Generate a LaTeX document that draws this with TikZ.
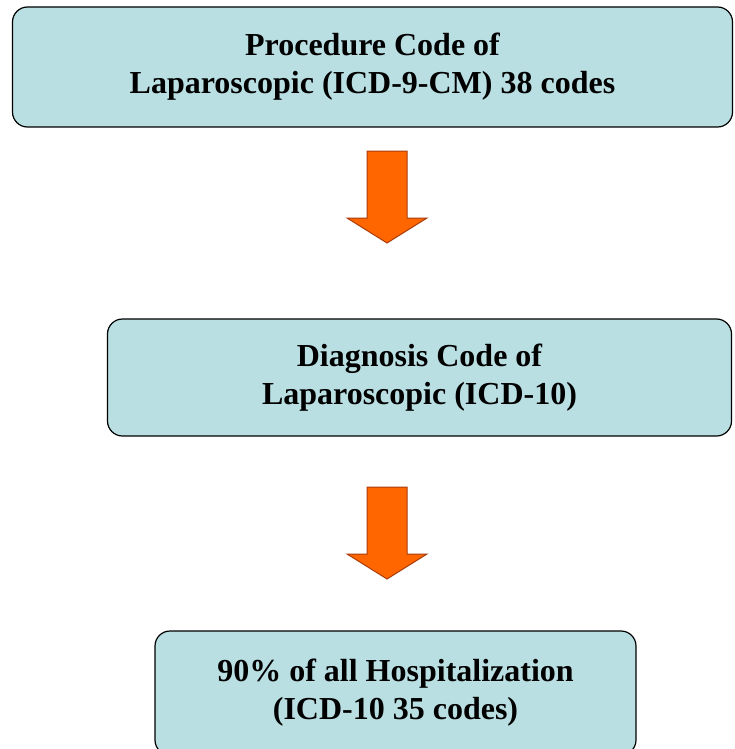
\documentclass[tikz,border=0pt]{standalone}
\usepackage{fontspec}
\setmainfont{Liberation Serif}
\definecolor{boxfill}{RGB}{185,223,227}
\definecolor{arrfill}{RGB}{255,102,0}
\definecolor{arrdraw}{RGB}{170,60,10}
\tikzset{
  codebox/.style={draw=black, line width=1.2pt, fill=boxfill, rounded corners=15pt,
    align=center, font=\fontsize{32}{38}\selectfont\bfseries, inner sep=0pt},
  downarrow/.pic={
    \draw[arrdraw, fill=arrfill, line width=1pt, line join=miter]
      (-20,-46) -- (20,-46) -- (20,21) -- (40,21) -- (0,46) -- (-40,21) -- (-20,21) -- cycle;
  }
}
\begin{document}
\begin{tikzpicture}[x=1pt, y=-1pt]
	\useasboundingbox (0,0) rectangle (734,749);
	% boxes
	\node[codebox, minimum width=720pt, minimum height=120pt] (proc) at (372.5,67)
	  {Procedure Code of\\Laparoscopic (ICD-9-CM) 38 codes};
	\node[codebox, minimum width=624pt, minimum height=117pt] (diag) at (419.5,377.5)
	  {Diagnosis Code of\\Laparoscopic (ICD-10)};
	\node[codebox, minimum width=481pt, minimum height=124pt] (hosp) at (395.5,693)
	  {90\% of all Hospitalization\\(ICD-10 35 codes)};
	% arrows
	\pic at (387,197) {downarrow};
	\pic at (387,533) {downarrow};
\end{tikzpicture}
\end{document}
